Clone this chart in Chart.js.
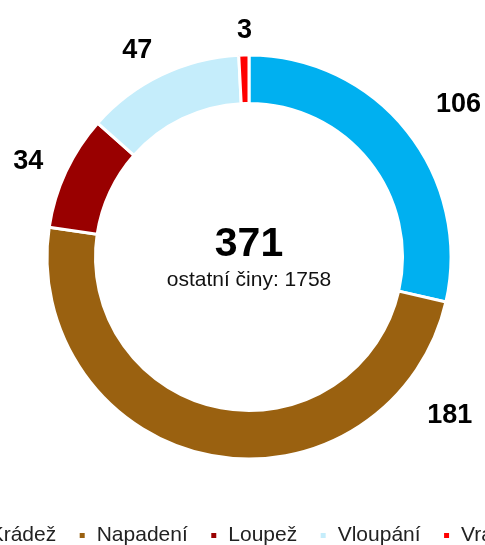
<!DOCTYPE html>
<html>
<head>
<meta charset="utf-8">
<script src="https://cdn.jsdelivr.net/npm/chart.js@4/dist/chart.umd.min.js"></script>
<style>
html,body{margin:0;padding:0;background:#fff;overflow:hidden;width:485px;height:545px;}
#wrap{position:absolute;left:-71px;top:0;width:640px;height:556px;}
</style>
</head>
<body>
<div id="wrap"><canvas id="c" width="640" height="556"></canvas></div>
<script>
const categories = ['Krádež', 'Napadení', 'Loupež', 'Vloupání', 'Vražda'];
const values = [106, 181, 34, 47, 3];
const colors = ['#00B0F0', '#9A6110', '#990000', '#C5EDFB', '#FF0000'];
const centerTotal = '371';
const centerSub = 'ostatní činy: 1758';

// label placement along each arc (fraction of arc) and distance outside outer edge
const labelFrac = [0.525, 0.145, 0.45, 0.44, 0.6];
const labelOffset = [57, 54, 38.5, 32.5, 24];

const FONT = "'Liberation Sans', Arial, sans-serif";

const labelsPlugin = {
  id: 'outLabels',
  afterDatasetsDraw(chart) {
    const ctx = chart.ctx;
    const meta = chart.getDatasetMeta(0);
    ctx.save();
    ctx.font = "bold 27px " + FONT;
    ctx.fillStyle = '#000';
    ctx.textAlign = 'center';
    ctx.textBaseline = 'middle';
    meta.data.forEach((arc, i) => {
      const p = arc.getProps(['x', 'y', 'startAngle', 'endAngle', 'outerRadius'], true);
      const a = p.startAngle + (p.endAngle - p.startAngle) * labelFrac[i];
      const r = p.outerRadius + labelOffset[i];
      ctx.fillText(String(values[i]), p.x + r * Math.cos(a), p.y + r * Math.sin(a));
    });
    // center text
    const a0 = meta.data[0];
    const cx = a0.x, cy = a0.y;
    ctx.font = "bold 41px " + FONT;
    ctx.fillText(centerTotal, cx, cy - 12);
    ctx.font = "21px " + FONT;
    ctx.fillStyle = '#111';
    ctx.fillText(centerSub, cx, cy + 23);
    ctx.restore();
  }
};

new Chart(document.getElementById('c'), {
  type: 'doughnut',
  data: {
    labels: categories,
    datasets: [{
      data: values,
      backgroundColor: colors,
      borderColor: '#ffffff',
      borderWidth: 3
    }]
  },
  options: {
    responsive: false,
    animation: false,
    devicePixelRatio: 1,
    radius: 202,
    cutout: '76%',
    layout: { padding: { top: 11, bottom: 0, left: 0, right: 0 } },
    plugins: {
      tooltip: { enabled: false },
      legend: {
        position: 'bottom',
        labels: {
          boxWidth: 8,
          boxHeight: 8,
          padding: 22,
          color: '#222',
          font: { family: FONT, size: 21 }
        }
      }
    }
  },
  plugins: [labelsPlugin]
});
</script>
</body>
</html>
